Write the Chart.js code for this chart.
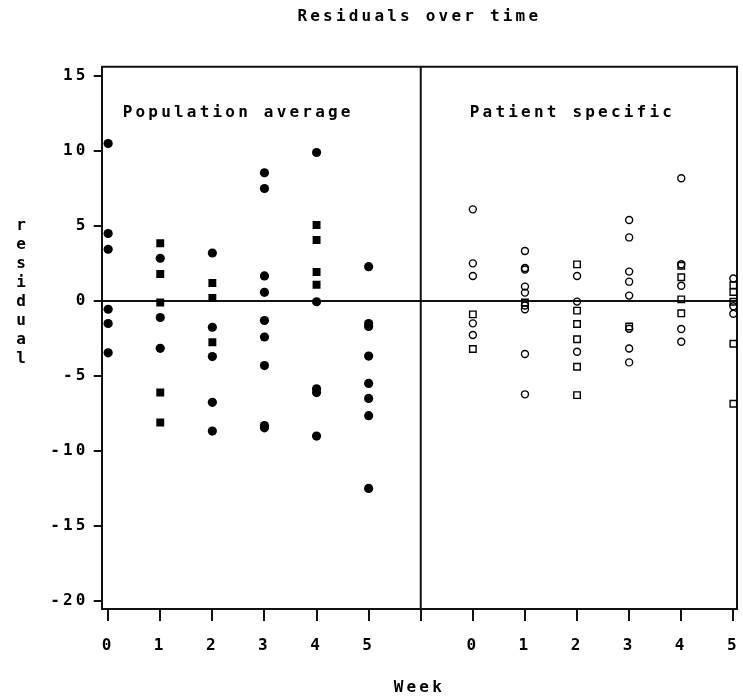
<!DOCTYPE html>
<html>
<head>
<meta charset="utf-8">
<title>Residuals over time</title>
<script src="https://cdn.jsdelivr.net/npm/chart.js@4.4.1/dist/chart.umd.min.js"></script>
<style>
  html, body { margin: 0; padding: 0; background: #fff; }
  canvas { display: block; }
</style>
</head>
<body>
<canvas id="chart" width="743" height="698"></canvas>
<script>
// weeks in each panel; the patient specific panel sits 7 units to the right
const weeks = [0, 1, 2, 3, 4, 5];
const patientShift = 7;
const yTicks = [-20, -15, -10, -5, 0, 5, 10, 15];

// residuals, one list per week
const popCircles = [
  [10.5, 4.5, 3.45, -0.55, -1.5, -3.45],
  [2.85, -1.1, -3.15],
  [3.2, -1.75, -3.7, -6.75, -8.67],
  [8.55, 7.5, 1.67, 0.58, -1.3, -2.4, -4.3, -8.3, -8.45],
  [9.9, -0.05, -5.85, -6.1, -9.0],
  [2.29, -1.5, -1.7, -3.67, -5.49, -6.49, -7.64, -12.49]
];
const popSquares = [
  [],
  [3.85, 1.8, -0.1, -6.1, -8.1],
  [1.2, 0.2, -2.75],
  [],
  [5.07, 4.07, 1.93, 1.09],
  []
];
const patCircles = [
  [6.11, 2.51, 1.67, -1.49, -2.27],
  [3.33, 2.1, 2.2, 0.96, 0.56, -0.3, -0.55, -3.53, -6.22],
  [1.67, -0.04, -3.38],
  [5.4, 4.24, 1.96, 1.29, 0.36, -1.85, -3.16, -4.09],
  [8.18, 2.45, 1.02, -1.87, -2.71],
  [1.5, -0.35, -0.85]
];
const patSquares = [
  [-0.89, -3.2],
  [-0.1],
  [2.44, -0.64, -1.53, -2.55, -4.38, -6.27],
  [-1.7],
  [2.35, 1.58, 0.11, -0.82],
  [1.05, 0.6, -0.05, -2.85, -6.85]
];

const FONT = '"DejaVu Sans Mono", monospace';
const SPACING = '3.2px';
const INK = '#111';

function toPoints(byWeek, shift) {
  const pts = [];
  byWeek.forEach((vals, i) => vals.forEach(v => pts.push({ x: weeks[i] + shift, y: v })));
  return pts;
}

// SAS style wide letter spacing, zero line, divider, box and side texts
const sasFrame = {
  id: 'sasFrame',
  beforeUpdate(chart) { chart.ctx.letterSpacing = SPACING; },
  beforeDraw(chart) { chart.ctx.letterSpacing = SPACING; },
  beforeDatasetsDraw(chart) {
    const { ctx, chartArea: a, scales: { x, y } } = chart;
    ctx.save();
    ctx.strokeStyle = INK;
    ctx.lineWidth = 2;
    ctx.beginPath();
    ctx.moveTo(a.left, a.top); ctx.lineTo(a.right, a.top); ctx.lineTo(a.right, a.bottom);
    const y0 = y.getPixelForValue(0);
    ctx.moveTo(a.left, y0); ctx.lineTo(a.right, y0);
    const xd = x.getPixelForValue(6);
    ctx.moveTo(xd, a.top); ctx.lineTo(xd, a.bottom);
    ctx.stroke();
    ctx.restore();
  },
  afterDraw(chart) {
    const { ctx, chartArea: a, scales: { x } } = chart;
    ctx.save();
    ctx.letterSpacing = SPACING;
    ctx.fillStyle = '#000';
    ctx.font = 'bold 16px ' + FONT;
    ctx.textBaseline = 'middle';
    ctx.textAlign = 'left';
    ctx.fillText('Population average', a.left + 21, a.top + 46);
    ctx.fillText('Patient specific', x.getPixelForValue(6) + 49, a.top + 46);
    ctx.textAlign = 'center';
    ctx.letterSpacing = '0px';
    'residual'.split('').forEach((ch, i) => ctx.fillText(ch, 21, 226 + i * 19));
    ctx.restore();
  }
};

const tickFont = { family: FONT, size: 16, weight: 'bold' };
const textFont = { family: FONT, size: 16, weight: 'bold' };

new Chart(document.getElementById('chart'), {
  type: 'scatter',
  data: {
    datasets: [
      { label: 'pop circles', data: toPoints(popCircles, 0), pointStyle: 'circle', pointRadius: 4.6,
        backgroundColor: '#000', borderWidth: 0 },
      { label: 'pop squares', data: toPoints(popSquares, 0), pointStyle: 'rect', pointRadius: 5.6,
        backgroundColor: '#000', borderWidth: 0 },
      { label: 'pat circles', data: toPoints(patCircles, patientShift), pointStyle: 'circle', pointRadius: 3.5,
        backgroundColor: 'rgba(0,0,0,0)', borderColor: '#000', borderWidth: 1.4 },
      { label: 'pat squares', data: toPoints(patSquares, patientShift), pointStyle: 'rect', pointRadius: 4.6,
        backgroundColor: 'rgba(0,0,0,0)', borderColor: '#000', borderWidth: 1.4 }
    ]
  },
  options: {
    responsive: false,
    animation: false,
    devicePixelRatio: 1,
    events: [],
    layout: { padding: { left: 0, right: 3, top: 0, bottom: 0 } },
    plugins: {
      legend: { display: false },
      tooltip: { enabled: false },
      title: {
        display: true,
        text: 'Residuals over time',
        fullSize: false,
        color: '#000',
        font: textFont,
        padding: { top: 7, bottom: 40.5 }
      }
    },
    scales: {
      x: {
        type: 'linear',
        min: -0.124,
        max: 12.07,
        afterBuildTicks: s => {
          s.ticks = weeks.concat([6], weeks.map(w => w + patientShift)).map(v => ({ value: v }));
        },
        afterFit: s => { s.height = 89; s.paddingLeft = 0; s.paddingRight = 0; },
        ticks: {
          autoSkip: false, maxRotation: 0, color: '#000', font: tickFont, padding: 15,
          callback: v => v === 6 ? '' : (v > 6 ? v - patientShift : v)
        },
        grid: { drawOnChartArea: false, drawTicks: true, tickLength: 12, color: INK, lineWidth: 2 },
        border: { display: true, color: INK, width: 2 },
        title: {
          display: true, text: 'Week', color: '#000', font: textFont,
          padding: { top: 0, bottom: 1 }
        }
      },
      y: {
        type: 'linear',
        min: -20.53,
        max: 15.62,
        afterBuildTicks: s => { s.ticks = yTicks.map(v => ({ value: v })); },
        afterFit: s => { s.width = 101.7; s.paddingTop = 0; s.paddingBottom = 0; },
        ticks: { color: '#000', font: tickFont, padding: 5 },
        grid: { drawOnChartArea: false, drawTicks: true, tickLength: 8, color: INK, lineWidth: 2 },
        border: { display: true, color: INK, width: 2 }
      }
    }
  },
  plugins: [sasFrame]
});
</script>
</body>
</html>
